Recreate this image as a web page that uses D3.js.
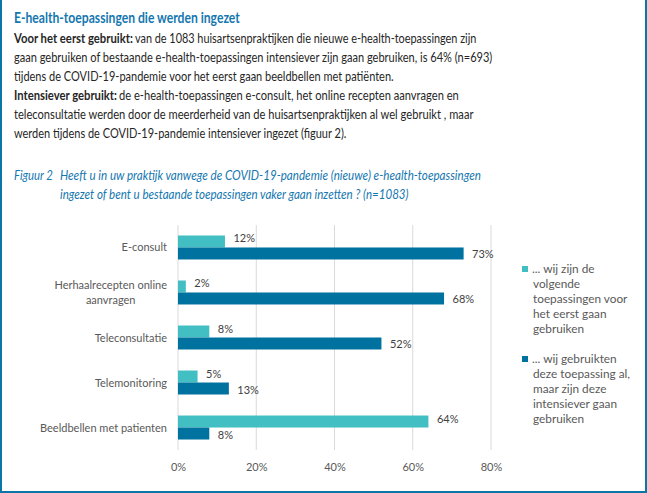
<!DOCTYPE html>
<html>
<head>
<meta charset="utf-8">
<script src="https://cdn.jsdelivr.net/npm/d3@7"></script>
<style>
  html, body { margin: 0; padding: 0; background: #fff; }
  svg { display: block; font-family: Lato, "Open Sans", sans-serif; }
</style>
</head>
<body>
<svg id="chart" width="647" height="493"></svg>
<script>
// ---- data ----
const categories = [
  "E-consult",
  "Herhaalrecepten online\naanvragen",
  "Teleconsultatie",
  "Telemonitoring",
  "Beeldbellen met patienten"
];
const seriesNames = [
  "... wij zijn de volgende toepassingen voor het eerst gaan gebruiken",
  "... wij gebruikten deze toepassing al, maar zijn deze intensiever gaan gebruiken"
];
const firstTimeValues = [12, 2, 8, 5, 64];
const intensiveValues = [73, 68, 52, 13, 8];
const xTicks = [0, 20, 40, 60, 80];
const legendLines = [
  ["... wij zijn de", "volgende", "toepassingen voor", "het eerst gaan", "gebruiken"],
  ["... wij gebruikten", "deze toepassing al,", "maar zijn deze", "intensiever gaan", "gebruiken"]
];
const titleText = "E-health-toepassingen die werden ingezet";
// each segment: [text, bold, x-start, width]
const bodyLines = [
  [["Voor het eerst gebruikt:", true, 14, 119], ["van de 1083  huisartsenpraktijken die nieuwe e-health-toepassingen zijn", false, 135, 342]],
  [["gaan gebruiken of bestaande e-health-toepassingen intensiever zijn gaan gebruiken, is 64%  (n=693)", false, 14, 479]],
  [["tijdens de COVID-19-pandemie voor het eerst gaan beeldbellen met patiënten.", false, 14, 380]],
  [["Intensiever gebruikt:", true, 14, 103], ["de e-health-toepassingen e-consult, het online recepten aanvragen en", false, 119, 340]],
  [["teleconsultatie werden door de meerderheid van de huisartsenpraktijken al wel gebruikt , maar", false, 14, 460]],
  [["werden tijdens de COVID-19-pandemie intensiever ingezet (figuur 2).", false, 14, 333]]
];
const captionLabel = "Figuur 2";
const captionLines = [
  "Heeft u in uw praktijk vanwege de COVID-19-pandemie (nieuwe) e-health-toepassingen",
  "ingezet of bent u bestaande toepassingen vaker gaan inzetten ? (n=1083)"
];
const captionWidths = [421, 349];

// ---- style ----
const colors = ["#41BFC3", "#00729F"];
const blue = "#1577B0";
const textGray = "#595959";
const labelGray = "#404040";

const svg = d3.select("#chart");

// draws a text line horizontally scaled to a given width
function fitText(s, x0, y0, w, attrs) {
  const t = svg.append("text").attr("x", 0).attr("y", 0);
  Object.entries(attrs).forEach(([k, v]) => t.attr(k, v));
  t.text(s);
  const nat = t.node().getComputedTextLength();
  const sx = nat > 0 ? w / nat : 1;
  t.attr("transform", `translate(${x0},${y0}) scale(${sx},1)`);
  return t;
}

// frame (left, right, bottom)
const frameColor = "#0A75A6";
svg.append("rect").attr("x", 0).attr("y", 0).attr("width", 2).attr("height", 493).attr("fill", frameColor);
svg.append("rect").attr("x", 645).attr("y", 0).attr("width", 2).attr("height", 493).attr("fill", frameColor);
svg.append("rect").attr("x", 0).attr("y", 491).attr("width", 647).attr("height", 2).attr("fill", frameColor);

// title
fitText(titleText, 14, 23, 226, {"font-size": 14.5, "font-weight": 700, "fill": blue});

// body
bodyLines.forEach((line, i) => {
  line.forEach(([s, b, x0, w]) => {
    fitText(s, x0, 42.5 + i * 19, w, {"font-size": 13, "fill": "#262626", "font-weight": b ? 700 : 400});
  });
});

// caption
fitText(captionLabel, 14, 179.5, 39, {"font-size": 13, "font-style": "italic", "fill": blue});
captionLines.forEach((s, i) => {
  fitText(s, 60, 179.5 + i * 19, captionWidths[i], {"font-size": 13, "font-style": "italic", "fill": blue});
});

// ---- chart ----
const plot = { left: 178, right: 491, top: 225, bottom: 450 };
const x = d3.scaleLinear().domain([0, 80]).range([plot.left, plot.right]);
const y = d3.scaleBand().domain(categories).range([plot.top, plot.bottom])
  .paddingInner(0.467).paddingOuter(0.233);
const ySub = d3.scaleBand().domain([0, 1]).range([0, y.bandwidth()]);

// gridlines
svg.append("g").selectAll("line").data(xTicks).join("line")
  .attr("x1", d => x(d)).attr("x2", d => x(d))
  .attr("y1", plot.top).attr("y2", plot.bottom)
  .attr("stroke", "#D9D9D9").attr("stroke-width", 1);

// x axis labels
const xAxis = d3.axisBottom(x).tickValues(xTicks).tickFormat(d => d + "%").tickSize(0).tickPadding(0);
const gx = svg.append("g").attr("transform", `translate(0,${plot.bottom})`).call(xAxis);
gx.select(".domain").remove();
gx.selectAll("text").attr("font-family", "Lato, 'Open Sans', sans-serif")
  .attr("font-size", 11).attr("fill", textGray).attr("dy", null).attr("y", 20.5);

// category labels
const catG = svg.append("g");
categories.forEach(c => {
  const lines = c.split("\n");
  const cy = y(c) + y.bandwidth() / 2;
  const g = catG.append("g");
  const texts = lines.map((s, i) => g.append("text")
    .attr("font-size", 11).attr("fill", textGray)
    .attr("y", cy + 4 + (i - (lines.length - 1) / 2) * 15.5)
    .text(s));
  const maxW = d3.max(texts, t => t.node().getComputedTextLength());
  const cx = 167 - maxW / 2;
  texts.forEach(t => t.attr("x", cx).attr("text-anchor", "middle"));
});

// bars
const seriesValues = [firstTimeValues, intensiveValues];
seriesValues.forEach((vals, si) => {
  const g = svg.append("g");
  g.selectAll("rect").data(categories).join("rect")
    .attr("x", x(0))
    .attr("y", c => y(c) + ySub(si))
    .attr("width", (c, i) => x(vals[i]) - x(0))
    .attr("height", ySub.bandwidth())
    .attr("fill", colors[si]);
  g.selectAll("text").data(categories).join("text")
    .attr("x", (c, i) => x(vals[i]) + 8.5)
    .attr("y", c => y(c) + ySub(si) + ySub.bandwidth() / 2 + 4 + (si === 0 ? -3 : 1))
    .attr("font-size", 11).attr("fill", labelGray)
    .text((c, i) => vals[i] + "%");
});

// legend
const legendTops = [269, 359];
seriesNames.forEach((name, si) => {
  const g = svg.append("g");
  g.append("rect").attr("x", 522).attr("y", legendTops[si] - 3).attr("width", 6).attr("height", 6).attr("fill", colors[si]);
  legendLines[si].forEach((s, i) => {
    g.append("text").attr("x", i === 0 ? 532 : 533).attr("y", legendTops[si] + 4 + i * 15)
      .attr("font-size", 11.8).attr("fill", textGray).text(s);
  });
});
</script>
</body>
</html>
